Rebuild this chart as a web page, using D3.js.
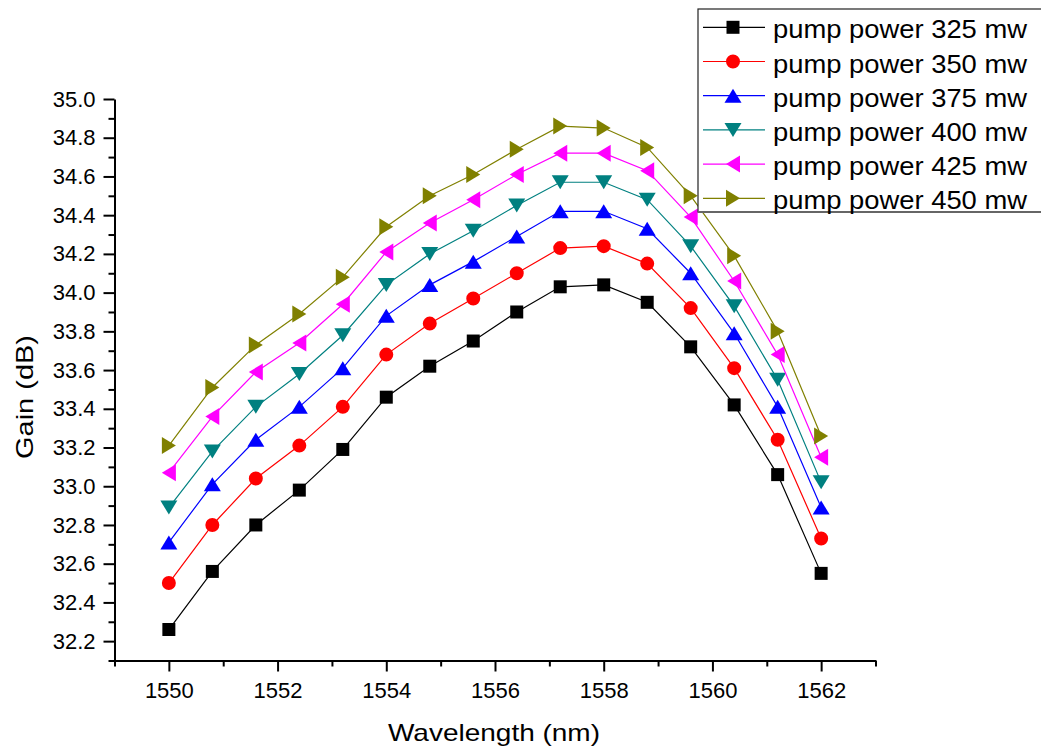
<!DOCTYPE html>
<html>
<head>
<meta charset="utf-8">
<script src="https://cdn.jsdelivr.net/npm/d3@7"></script>
<style>
  body { margin: 0; background: #fff; }
  svg { display: block; font-family: "Liberation Sans", Arial, sans-serif; }
</style>
</head>
<body>
<svg width="1041" height="751"></svg>
<script>
// wavelength (nm)
var wavelengths = [1550, 1550.8, 1551.6, 1552.4, 1553.2, 1554, 1554.8, 1555.6,
                   1556.4, 1557.2, 1558, 1558.8, 1559.6, 1560.4, 1561.2, 1562];

// gain (dB) per pump power
var gain325 = [32.26, 32.56, 32.80, 32.98, 33.19, 33.46, 33.62, 33.75, 33.90, 34.03, 34.04, 33.95, 33.72, 33.42, 33.06, 32.55];
var gain350 = [32.50, 32.80, 33.04, 33.21, 33.41, 33.68, 33.84, 33.97, 34.10, 34.23, 34.24, 34.15, 33.92, 33.61, 33.24, 32.73];
var gain375 = [32.71, 33.01, 33.24, 33.41, 33.61, 33.88, 34.04, 34.16, 34.29, 34.42, 34.42, 34.33, 34.10, 33.79, 33.41, 32.89];
var gain400 = [32.89, 33.18, 33.41, 33.58, 33.78, 34.04, 34.20, 34.32, 34.45, 34.57, 34.57, 34.48, 34.24, 33.93, 33.55, 33.02];
var gain425 = [33.07, 33.36, 33.59, 33.74, 33.94, 34.21, 34.36, 34.48, 34.61, 34.72, 34.72, 34.63, 34.39, 34.06, 33.68, 33.15];
var gain450 = [33.21, 33.51, 33.73, 33.89, 34.08, 34.34, 34.50, 34.61, 34.74, 34.86, 34.85, 34.75, 34.50, 34.19, 33.80, 33.26];

var seriesNames = ["pump power 325 mw", "pump power 350 mw", "pump power 375 mw",
                   "pump power 400 mw", "pump power 425 mw", "pump power 450 mw"];
var seriesValues = [gain325, gain350, gain375, gain400, gain425, gain450];
var seriesColors = ["#000000", "#ff0000", "#0000ff", "#008080", "#ff00ff", "#808000"];
var seriesShapes = ["square", "circle", "up", "down", "left", "right"];

var xMajor = [1550, 1552, 1554, 1556, 1558, 1560, 1562];
var xMinor = [1549, 1551, 1553, 1555, 1557, 1559, 1561, 1563];
var yMajor = [32.2, 32.4, 32.6, 32.8, 33.0, 33.2, 33.4, 33.6, 33.8, 34.0, 34.2, 34.4, 34.6, 34.8, 35.0];
var yMinor = [32.1, 32.3, 32.5, 32.7, 32.9, 33.1, 33.3, 33.5, 33.7, 33.9, 34.1, 34.3, 34.5, 34.7, 34.9];

var svg = d3.select("svg");

var plotLeft = 114.5, plotRight = 875.5, plotTop = 99, plotBottom = 660.5;

var xScale = d3.scaleLinear()
               .domain([1549, 1563])
               .range([plotLeft, plotRight]);

var yScale = d3.scaleLinear()
               .domain([32.1, 35.0])
               .range([plotBottom, plotTop]);

// marker path, centred on 0,0
var markerPath = function(shape)
{
  if (shape == "square") return d3.symbol(d3.symbolSquare, 169)();
  if (shape == "circle") return d3.symbol(d3.symbolCircle, 154)();
  var w = 17, h = 14;
  if (shape == "up")    return "M0," + (-h/2) + "L" + (w/2) + "," + (h/2) + "L" + (-w/2) + "," + (h/2) + "Z";
  if (shape == "down")  return "M0," + (h/2) + "L" + (w/2) + "," + (-h/2) + "L" + (-w/2) + "," + (-h/2) + "Z";
  if (shape == "left")  return "M" + (-h/2) + ",0L" + (h/2) + "," + (-w/2) + "L" + (h/2) + "," + (w/2) + "Z";
  return "M" + (h/2) + ",0L" + (-h/2) + "," + (-w/2) + "L" + (-h/2) + "," + (w/2) + "Z";
}

// axes
var xAxis = svg.append("g")
   .attr("transform", "translate(0," + plotBottom + ")")
   .call(d3.axisBottom(xScale).tickValues(xMajor).tickSize(11).tickSizeOuter(0).tickFormat(d3.format("d")));
svg.append("g")
   .attr("transform", "translate(0," + plotBottom + ")")
   .call(d3.axisBottom(xScale).tickValues(xMinor).tickSize(6).tickSizeOuter(0).tickFormat(""))
   .select(".domain").remove();

var yAxis = svg.append("g")
   .attr("transform", "translate(" + plotLeft + ",0)")
   .call(d3.axisLeft(yScale).tickValues(yMajor).tickSize(11).tickSizeOuter(0).tickPadding(8).tickFormat(d3.format(".1f")));
svg.append("g")
   .attr("transform", "translate(" + plotLeft + ",0)")
   .call(d3.axisLeft(yScale).tickValues(yMinor).tickSize(6).tickSizeOuter(0).tickFormat(""))
   .select(".domain").remove();

svg.selectAll(".domain").attr("stroke", "#000").attr("stroke-width", 2);
svg.selectAll(".tick line").attr("stroke", "#000").attr("stroke-width", 2);
svg.selectAll(".tick text").attr("font-size", 22).attr("fill", "#000")
   .style("font-family", "'Liberation Sans', Arial, sans-serif");
xAxis.selectAll(".tick text").attr("y", 37).attr("dy", 0);

// axis titles
svg.append("text")
   .attr("x", 494).attr("y", 741)
   .attr("text-anchor", "middle")
   .attr("font-size", 24)
   .attr("textLength", 212).attr("lengthAdjust", "spacingAndGlyphs")
   .text("Wavelength (nm)");

svg.append("text")
   .attr("transform", "translate(33,397) rotate(-90)")
   .attr("text-anchor", "middle")
   .attr("font-size", 24)
   .attr("textLength", 124).attr("lengthAdjust", "spacingAndGlyphs")
   .text("Gain (dB)");

// lines and markers
var line = d3.line()
             .x(function(d,i) { return xScale(wavelengths[i]); })
             .y(function(d) { return yScale(d); });

seriesValues.forEach(function(vals, s)
{
  var g = svg.append("g");
  g.append("path")
   .attr("d", line(vals))
   .attr("fill", "none")
   .attr("stroke", seriesColors[s])
   .attr("stroke-width", 1.2);
  g.selectAll("path.mk")
   .data(vals)
   .enter()
   .append("path")
   .attr("class", "mk")
   .attr("d", markerPath(seriesShapes[s]))
   .attr("transform", function(d,i) {
     return "translate(" + xScale(wavelengths[i]) + "," + yScale(d) + ")"; })
   .attr("fill", seriesColors[s]);
});

// legend
var legend = svg.append("g");
legend.append("rect")
      .attr("x", 698).attr("y", 9)
      .attr("width", 400).attr("height", 203)
      .attr("fill", "#fff")
      .attr("stroke", "#222")
      .attr("stroke-width", 1.2);
legend.append("line")
      .attr("x1", 698).attr("x2", 1041)
      .attr("y1", 212).attr("y2", 212)
      .attr("stroke", "#666")
      .attr("stroke-width", 2);

seriesNames.forEach(function(name, s)
{
  var ry = 27.3 + s * 34.2;
  legend.append("line")
        .attr("x1", 703).attr("x2", 765)
        .attr("y1", ry).attr("y2", ry)
        .attr("stroke", seriesColors[s])
        .attr("stroke-width", 1.2);
  legend.append("path")
        .attr("d", markerPath(seriesShapes[s]))
        .attr("transform", "translate(733," + ry + ")")
        .attr("fill", seriesColors[s]);
  legend.append("text")
        .attr("x", 773).attr("y", ry + 11)
        .attr("font-size", 25)
        .attr("textLength", 254).attr("lengthAdjust", "spacingAndGlyphs")
        .text(name);
});
</script>
</body>
</html>
